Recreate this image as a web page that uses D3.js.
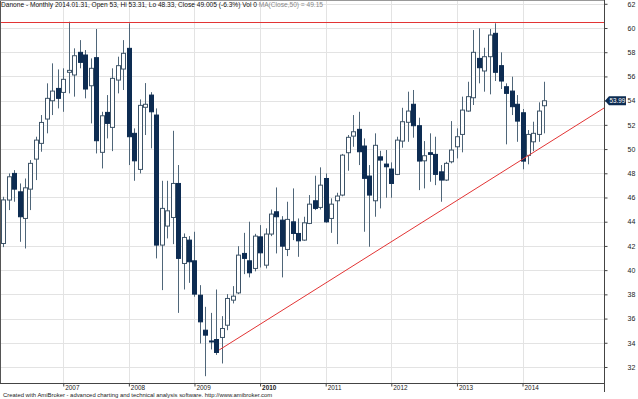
<!DOCTYPE html>
<html>
<head>
<meta charset="utf-8">
<title>Danone monthly</title>
<script src="https://cdn.jsdelivr.net/npm/d3@7"></script>
<style>
  body { margin: 0; background: #fff; }
  text { font-family: "Liberation Sans", Arial, sans-serif; }
</style>
</head>
<body>
<script>
// monthly bars, first bar = 2006-02
var startYear = 2006, startMonth = 1; // 0-based month
var opens  = [42.2,45.79,47.99,46.47,44.27,46.69,49.17,50.47,52.48,53.99,55.01,
              54.68,56.34,56.12,57.99,57.77,55.23,57.55,49.73,53.03,51.79,55.7,56.61,
              58.32,51.3,48.32,53.45,54.46,52.81,42.07,43.64,44.35,47.16,40.55,42.48,
              40.77,37.93,35.04,34.15,34.27,34.44,35.45,37.52,38.12,41.38,40.77,40.14,
              42.75,40.41,42.98,44.82,44.13,41.71,43.99,43.03,42.48,43.86,45.73,45.18,
              47.57,44.27,45.73,46.2,49.7,51.07,51.63,50.25,47.77,45.73,49.36,48.76,
              48.35,47.91,50.66,52.21,53.7,51.93,49.03,49.7,49.56,48.12,47.44,48.95,
              50.19,51.21,53.14,54.24,57.49,56.45,57.63,59.56,56.89,55.15,54.79,53.7,
              53,49.48,50.6,51.21,53.58];
var highs  = [46.06,47.99,48.26,47.16,47.57,49.09,51.02,52.81,55.43,57.08,56.58,
              56.67,60.52,58.32,59.0,58.18,57.49,59.92,53.08,54.46,56.67,57.63,59.0,
              60.39,51.71,54.1,55.45,54.7,53.36,47.38,47.38,51.51,48.68,43.03,42.81,
              43.17,38.76,36.97,36.47,38.4,36.2,38.02,38.68,41.98,43.08,44.0,43.0,
              43.72,43.45,45.01,46.83,44.46,45.65,46.75,44.27,44.41,46.2,47.8,48.49,
              47.99,45.93,46.39,49.6,51.16,52.81,53.08,50.88,48.68,51.3,49.86,49.92,
              48.9,51.02,53.41,54.74,54.88,52.59,50.66,51.3,51.02,48.68,48.95,52.31,
              51.71,54.33,55.56,59.83,59.97,58.37,59.92,60.39,57.99,55.43,55.98,54.46,
              53.31,51.57,52.26,53.86,55.56];
var lows   = [41.9,44.96,45.65,42.34,41.79,44.96,47.44,49.78,51.3,52.81,53.36,
              53.08,54.6,54.33,56.67,54.19,52.12,49.64,48.4,50.88,49.83,54.6,54.88,
              48.68,47.38,47.99,51.16,50.06,40.97,38.35,42.62,42.15,36.47,38.4,38.95,
              37.8,33.94,31.24,33.45,33.0,32.29,35.04,37.25,38.02,39.67,39.4,39.9,
              40.22,40.14,42.81,41.38,39.4,41.16,42.48,41.1,42.42,43.8,44.96,45.01,
              43.91,43.08,42.15,46.1,48.21,50.19,48.68,43.17,41.93,44.41,45.1,45.98,
              45.98,47.85,50.11,50.6,50.94,46.61,46.75,47.3,47.02,45.65,47.36,48.82,
              49.23,49.73,53.08,53.64,55.43,54.74,54.52,55.62,54.96,50.39,52.81,50.6,
              48.33,48.74,49.83,50.6,51.3];
var closes = [45.8,47.71,46.69,44.41,46.8,48.82,50.74,52.2,54.19,54.79,54.19,
              55.76,56.5,57.71,57.16,54.96,56.67,50.69,52.75,52.12,55.84,56.89,57.91,
              51.02,49.03,53.61,53.7,53.08,42.07,45.1,44.9,47.16,40.97,42.7,40.69,
              38.02,35.73,34.63,34.1,33.2,35.18,37.66,37.85,41.24,40.97,39.78,42.81,
              41.43,42.98,44.63,44.41,41.98,44.19,43.03,42.42,43.91,45.45,45.1,47.02,
              43.99,45.45,46.12,49.5,50.97,51.43,49.78,47.58,46.2,50.31,49.09,48.54,
              47.16,50.74,52.26,53.14,51.93,49.01,49.45,49.56,47.91,47.44,48.82,49.92,
              51.02,53.22,54.33,57.99,56.72,57.63,59.42,56.34,55.62,54.6,53.5,52.31,
              49.005,51.21,51.3,53.14,53.99];
var yearLabels = ["2007","2008","2009","2010","2011","2012","2013","2014"];
var yTicks = [32,34,36,38,40,42,44,46,48,50,52,54,56,58,60,62];
var resistance = 60.5;
var trendStart = { m: 39.5, v: 33.4 };   // month index, price
var trendEnd   = { m: 109.9, v: 53.39 };
var lastPrice = 53.99;
var title = "Danone - Monthly 2014.01.31, Open 53, Hi 53.31, Lo 48.33, Close 49.005 (-6.3%) Vol 0 ";
var maText = "MA(Close,50) = 49.15";
var footer = "Created with AmiBroker - advanced charting and technical analysis software. http://www.amibroker.com";

var W = 638, H = 399;
var plotR = 604, plotB = 383;
var red = "rgb(226,52,52)";

var bars = opens.map(function (o, i) {
    return { i: i, o: o, h: highs[i], l: lows[i], c: closes[i] };
});

var x = d3.scaleLinear().domain([-0.57, 109.9]).range([0, plotR]);
var y = d3.scaleLinear().domain([30.678, 62.313]).range([plotB, 0]);

var svg = d3.select("body").append("svg")
    .attr("width", W).attr("height", H);

// grid
svg.append("g").selectAll("line").data(yTicks).enter().append("line")
    .attr("x1", 0).attr("x2", plotR)
    .attr("y1", function (d) { return Math.round(y(d)) + 0.5; })
    .attr("y2", function (d) { return Math.round(y(d)) + 0.5; })
    .attr("stroke", "#e3e3e3");

var yearIdx = yearLabels.map(function (t) { return (+t - startYear) * 12 - startMonth; });
svg.append("g").selectAll("line").data(yearIdx).enter().append("line")
    .attr("x1", function (d) { return Math.round(x(d)) + 0.5; })
    .attr("x2", function (d) { return Math.round(x(d)) + 0.5; })
    .attr("y1", 0).attr("y2", plotB)
    .attr("stroke", "#e3e3e3");

// candles
var g = svg.append("g");
g.selectAll("line.wick").data(bars).enter().append("line")
    .attr("class", "wick")
    .attr("x1", function (d) { return Math.round(x(d.i)) + 0.5; })
    .attr("x2", function (d) { return Math.round(x(d.i)) + 0.5; })
    .attr("y1", function (d) { return y(d.h); })
    .attr("y2", function (d) { return y(d.l); })
    .attr("stroke", "#4f6679");

g.selectAll("rect").data(bars).enter().append("rect")
    .attr("x", function (d) { return Math.round(x(d.i)) - 1.5; })
    .attr("width", 4)
    .attr("y", function (d) { return y(Math.max(d.o, d.c)); })
    .attr("height", function (d) { return Math.max(1, Math.abs(y(d.o) - y(d.c))); })
    .attr("fill", function (d) { return d.c >= d.o ? "#ffffff" : "#0d2c52"; })
    .attr("stroke", function (d) { return d.c >= d.o ? "#3e5468" : "#0d2c52"; })
    .attr("stroke-width", 1);

// resistance + trend
svg.append("path")
    .attr("d", "M0," + (Math.round(y(resistance)) + 0.5) + "H" + plotR)
    .style("stroke", red).style("stroke-width", "1px").style("fill", "none");
svg.append("path")
    .attr("d", "M" + x(trendStart.m) + "," + y(trendStart.v) + "L" + x(trendEnd.m) + "," + y(trendEnd.v))
    .style("stroke", red).style("stroke-width", "1px").style("fill", "none");

// frame
svg.append("line").attr("x1", 0.5).attr("x2", 0.5).attr("y1", 0).attr("y2", plotB)
    .attr("stroke", "#555").attr("stroke-width", 1);
svg.append("line").attr("x1", 0).attr("x2", plotR).attr("y1", 0.5).attr("y2", 0.5)
    .attr("stroke", "#999");

// right axis
var yAxis = d3.axisRight(y).tickValues(yTicks).tickSize(3).tickFormat(d3.format("d"));
var ya = svg.append("g").attr("transform", "translate(" + (plotR + 0.5) + ",0)").call(yAxis);
ya.select(".domain").remove();
ya.selectAll(".tick line").attr("stroke", "#444");
ya.selectAll(".tick text").attr("x", 23).attr("fill", "#222")
    .style("font-size", "7px").style("font-family", "Liberation Sans, Arial, sans-serif");
svg.append("line").attr("x1", plotR + 0.5).attr("x2", plotR + 0.5).attr("y1", 0).attr("y2", 392)
    .attr("stroke", "#444").attr("stroke-width", 1);

// bottom axis
var xAxis = d3.axisBottom(x).tickValues(yearIdx).tickSize(3)
    .tickFormat(function (d, i) { return yearLabels[i]; });
var xa = svg.append("g").attr("transform", "translate(0," + (plotB + 0.5) + ")").call(xAxis);
xa.select(".domain").remove();
xa.selectAll(".tick line").attr("stroke", "#444");
xa.selectAll(".tick text").attr("text-anchor", "start").attr("x", 1.5).attr("y", 2)
    .attr("fill", "#222")
    .style("font-size", "6.4px").style("font-family", "Liberation Sans, Arial, sans-serif");
xa.selectAll(".tick text").filter(function (d, i) { return yearLabels[i] === "2010"; })
    .style("font-weight", "bold");
svg.append("line").attr("x1", 0).attr("x2", plotR + 1).attr("y1", plotB + 0.5).attr("y2", plotB + 0.5)
    .attr("stroke", "#444").attr("stroke-width", 1.2);

// last price marker (kept left of the tick labels)
var py = y(lastPrice);
svg.append("path")
    .attr("d", "M" + (plotR + 1) + "," + py + "L" + (plotR + 5) + "," + (py - 4.5) +
        "L" + (plotR + 22) + "," + (py - 4.5) + "L" + (plotR + 22) + "," + (py + 4.5) +
        "L" + (plotR + 5) + "," + (py + 4.5) + "Z")
    .attr("fill", "#0d2c52");
svg.append("text").attr("x", plotR + 13.5).attr("y", py + 2.4)
    .attr("text-anchor", "middle").attr("fill", "#fff")
    .style("font-size", "6.3px").text(d3.format(".2f")(lastPrice));

// header
var t = svg.append("text").attr("x", 1).attr("y", 7).style("font-size", "6.6px").attr("fill", "#111");
t.append("tspan").text(title);
t.append("tspan").attr("fill", "#8a8a8a").text(maText);

// footer
svg.append("text").attr("x", 3).attr("y", 397).style("font-size", "5.9px").attr("fill", "#222")
    .text(footer);
</script>
</body>
</html>
